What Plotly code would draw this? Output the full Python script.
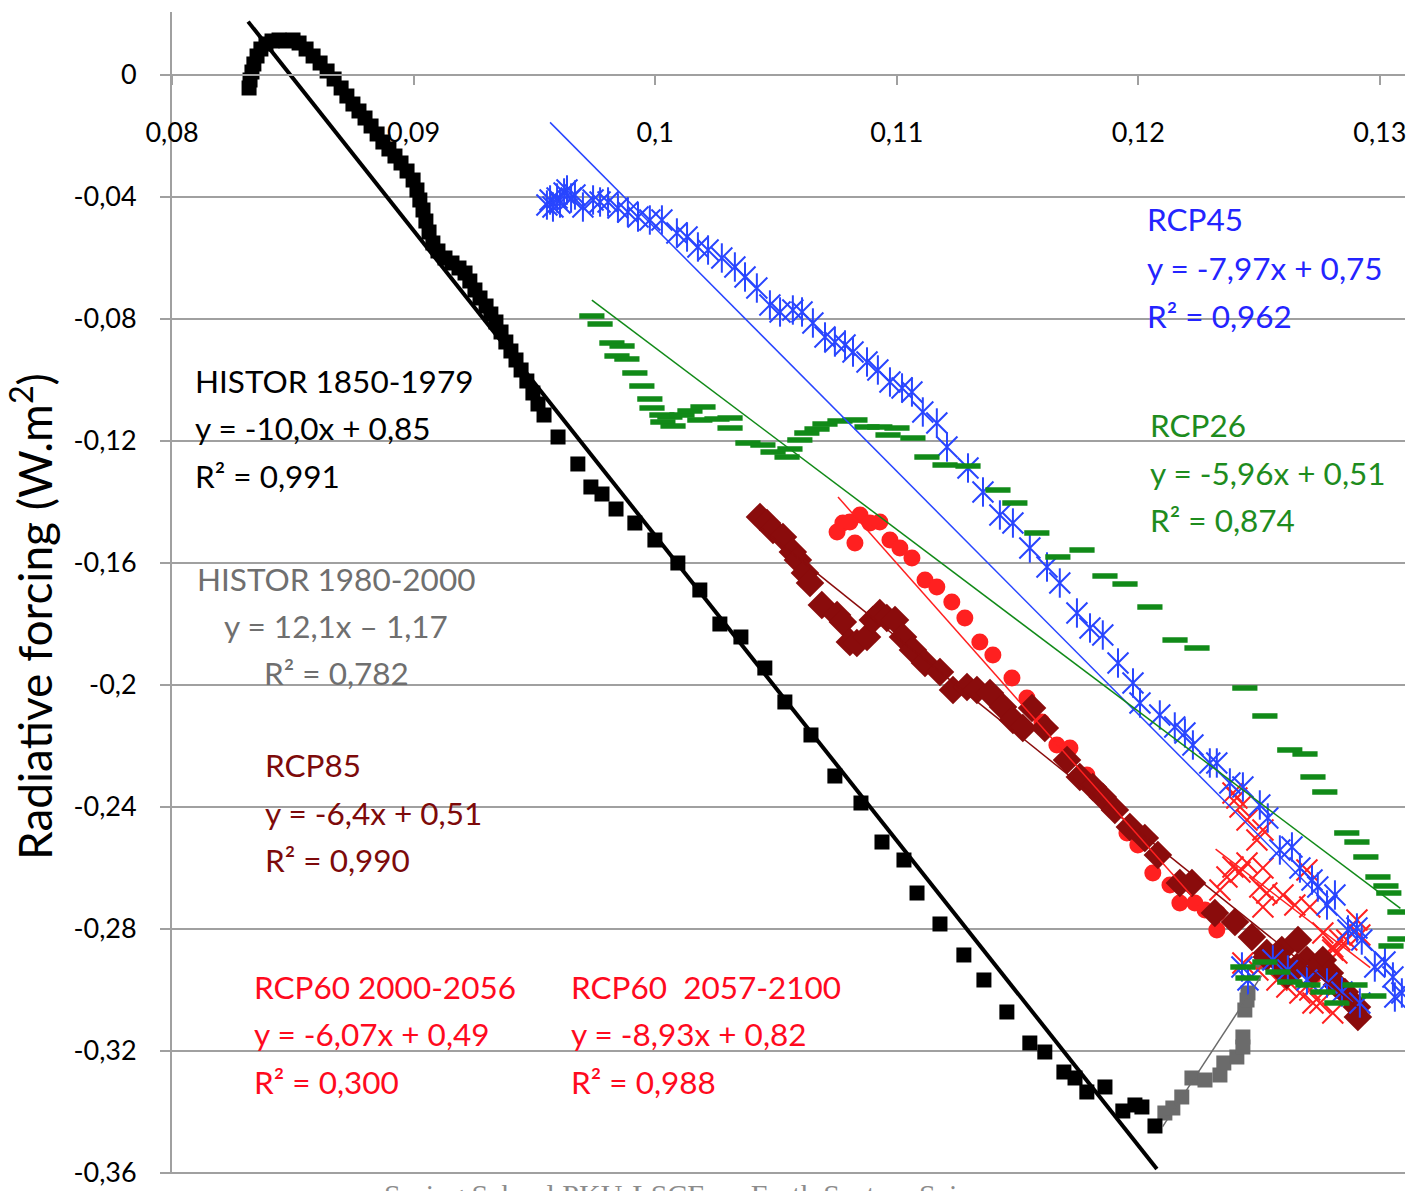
import numpy as np
import plotly.graph_objects as go

# ---------------- data ----------------
# HISTOR 1850-1979 (black squares)
hist1_x = [0.08319, 0.08323, 0.08331, 0.08339, 0.08352, 0.08368, 0.08389, 0.08414, 0.08443, 0.08472,
           0.08501, 0.08526, 0.08555, 0.08584, 0.08613, 0.08642, 0.08671, 0.08700, 0.08724, 0.08749,
           0.08774, 0.08799, 0.08824, 0.08849, 0.08873, 0.08898, 0.08923, 0.08948, 0.08973, 0.08998,
           0.09014, 0.09026, 0.09039, 0.09051, 0.09064, 0.09080, 0.09101, 0.09130, 0.09159, 0.09188,
           0.09213, 0.09233, 0.09254, 0.09275, 0.09300, 0.09320, 0.09341, 0.09362, 0.09382, 0.09403,
           0.09424, 0.09445, 0.09469, 0.09494, 0.09515, 0.09540, 0.09598, 0.09680, 0.09734, 0.09780,
           0.09838, 0.09916, 0.09999, 0.10094, 0.10185, 0.10268, 0.10355, 0.10454, 0.10537, 0.10645,
           0.10744, 0.10852, 0.10939, 0.11030, 0.11084, 0.11179, 0.11278, 0.11361, 0.11456, 0.11551,
           0.11613, 0.11692, 0.11738, 0.11787, 0.11862, 0.11936, 0.11986, 0.12015, 0.12069]
hist1_y = [-0.00426, -0.00164, 0.00098, 0.00361, 0.00623, 0.00852, 0.01016, 0.01115, 0.01148, 0.01115,
           0.01148, 0.01049, 0.00852, 0.00623, 0.00393, 0.00131, -0.00131, -0.00426, -0.00689, -0.00951,
           -0.01180, -0.01410, -0.01672, -0.01934, -0.02197, -0.02426, -0.02656, -0.02885, -0.03148, -0.03443,
           -0.03770, -0.04098, -0.04426, -0.04787, -0.05148, -0.05508, -0.05770, -0.06000, -0.06164, -0.06328,
           -0.06492, -0.06754, -0.07049, -0.07311, -0.07574, -0.07836, -0.08098, -0.08426, -0.08754, -0.09049,
           -0.09344, -0.09672, -0.10033, -0.10426, -0.10787, -0.11148, -0.11869, -0.12754, -0.13508, -0.13738,
           -0.14230, -0.14689, -0.15246, -0.16000, -0.16885, -0.18000, -0.18426, -0.19443, -0.20557, -0.21639,
           -0.22984, -0.23869, -0.25148, -0.25738, -0.26820, -0.27836, -0.28852, -0.29672, -0.30721, -0.31738,
           -0.32033, -0.32689, -0.32885, -0.33344, -0.33180, -0.33967, -0.33770, -0.33836, -0.34459]

# HISTOR 1980-2000 (grey squares)
hist2_x = [0.12110, 0.12143, 0.12180, 0.12222, 0.12276, 0.12338, 0.12354, 0.12408, 0.12433, 0.12433,
           0.12441, 0.12450, 0.12454, 0.12512]
hist2_y = [-0.34033, -0.33869, -0.33508, -0.32885, -0.32951, -0.32787, -0.32393, -0.32197, -0.31869, -0.31541,
           -0.30656, -0.30328, -0.30098, -0.29082]

# RCP85 (dark red diamonds)
rcp85_x = [0.10434, 0.10463, 0.10488, 0.10529, 0.10570, 0.10591, 0.10620, 0.10641, 0.10690, 0.10753,
           0.10777, 0.10806, 0.10835, 0.10877, 0.10901, 0.10930, 0.10959, 0.10993, 0.11026, 0.11067,
           0.11117, 0.11179, 0.11233, 0.11291, 0.11332, 0.11386, 0.11440, 0.11481, 0.11522, 0.11560,
           0.11613, 0.11705, 0.11758, 0.11812, 0.11853, 0.11903, 0.11965, 0.12027, 0.12081, 0.12172,
           0.12222, 0.12317, 0.12400, 0.12470, 0.12532, 0.12594, 0.12661, 0.12698, 0.12764, 0.12793,
           0.12822, 0.12855, 0.12905, 0.12909, 0.12532, 0.12586, 0.12656, 0.12723, 0.12615]
rcp85_y = [-0.14492, -0.14689, -0.14918, -0.15148, -0.15639, -0.15902, -0.16328, -0.16656, -0.17377, -0.17705,
           -0.17934, -0.18590, -0.18623, -0.18426, -0.17869, -0.17639, -0.17803, -0.17869, -0.18426, -0.18852,
           -0.19279, -0.19574, -0.20164, -0.20066, -0.20164, -0.20262, -0.20721, -0.21148, -0.21410, -0.20754,
           -0.21410, -0.22459, -0.23016, -0.23344, -0.23672, -0.24098, -0.24656, -0.25016, -0.25574, -0.26492,
           -0.26492, -0.27475, -0.27770, -0.28262, -0.28787, -0.28689, -0.28361, -0.29016, -0.29016, -0.29443,
           -0.29836, -0.30066, -0.30557, -0.30885, -0.28918, -0.29082, -0.29246, -0.29410, -0.29508]

# RCP60 2057-2100 (red circles)
rcp60b_x = [0.10753, 0.10777, 0.10806, 0.10827, 0.10848, 0.10889, 0.10930, 0.10972, 0.11013, 0.11063,
            0.11117, 0.11166, 0.11228, 0.11282, 0.11344, 0.11398, 0.11477, 0.11539, 0.11601, 0.11663,
            0.11717, 0.11787, 0.11862, 0.11953, 0.11998, 0.12060, 0.12131, 0.12172, 0.12234, 0.12276,
            0.12329, 0.12325]
rcp60b_y = [-0.14984, -0.14689, -0.14656, -0.15344, -0.14426, -0.14689, -0.14656, -0.15246, -0.15508, -0.15836,
            -0.16557, -0.16787, -0.17279, -0.17803, -0.18590, -0.19016, -0.19770, -0.20426, -0.21213, -0.21967,
            -0.22066, -0.22951, -0.23705, -0.24852, -0.25246, -0.26164, -0.26557, -0.27148, -0.27148, -0.27377,
            -0.27475, -0.28033]

# RCP60 2000-2056 (red crosses)
rcp60a_x = [0.12392, 0.12408, 0.12421, 0.12450, 0.12491, 0.12516, 0.12367, 0.12392, 0.12421, 0.12450,
            0.12516, 0.12503, 0.12532, 0.12516, 0.12338, 0.12710, 0.12764, 0.12805, 0.12863, 0.12905,
            0.12917, 0.12698, 0.12834, 0.12805, 0.12599, 0.12648, 0.12433, 0.12495, 0.12574, 0.12615,
            0.12669, 0.12723, 0.12752, 0.12805, 0.12710, 0.12822]
rcp60a_y = [-0.23541, -0.23705, -0.24000, -0.24426, -0.25082, -0.24754, -0.26295, -0.25967, -0.26131, -0.25836,
            -0.26000, -0.26623, -0.26820, -0.27279, -0.26721, -0.27279, -0.28131, -0.28590, -0.28361, -0.27705,
            -0.28197, -0.26066, -0.28361, -0.28689, -0.26885, -0.27213, -0.29115, -0.29344, -0.29672, -0.29902,
            -0.30098, -0.30426, -0.30426, -0.30754, -0.30000, -0.28787]

# RCP45 (blue stars)
rcp45_x = [0.09552, 0.09565, 0.09577, 0.09594, 0.09606, 0.09623, 0.09635, 0.09652, 0.09668, 0.09701,
           0.09743, 0.09772, 0.09805, 0.09846, 0.09887, 0.09929, 0.09978, 0.10028, 0.10090, 0.10132,
           0.10177, 0.10219, 0.10276, 0.10330, 0.10372, 0.10421, 0.10475, 0.10517, 0.10570, 0.10608,
           0.10653, 0.10703, 0.10744, 0.10786, 0.10819, 0.10877, 0.10922, 0.10972, 0.11022, 0.11063,
           0.11108, 0.11166, 0.11208, 0.11295, 0.11357, 0.11427, 0.11481, 0.11551, 0.11622, 0.11675,
           0.11746, 0.11800, 0.11853, 0.11916, 0.11978, 0.12007, 0.12089, 0.12151, 0.12193, 0.12226,
           0.12296, 0.12325, 0.12379, 0.12433, 0.12503, 0.12536, 0.12586, 0.12636, 0.12669, 0.12719,
           0.12743, 0.12781, 0.12814, 0.12868, 0.12905, 0.12925, 0.12979, 0.13021, 0.13054, 0.13091,
           0.13062, 0.12429, 0.12454, 0.12557, 0.12619, 0.12698, 0.12781, 0.12843, 0.12917]
rcp45_y = [-0.04262, -0.04098, -0.04328, -0.04033, -0.04197, -0.03869, -0.03770, -0.04033, -0.03934, -0.04328,
           -0.04098, -0.04164, -0.04164, -0.04361, -0.04492, -0.04656, -0.04754, -0.04754, -0.05180, -0.05311,
           -0.05639, -0.05738, -0.06000, -0.06295, -0.06623, -0.06984, -0.07541, -0.07770, -0.07705, -0.07770,
           -0.08131, -0.08590, -0.08754, -0.08852, -0.09082, -0.09410, -0.09672, -0.10066, -0.10262, -0.10393,
           -0.11049, -0.11410, -0.12197, -0.12885, -0.13672, -0.14426, -0.14689, -0.15508, -0.16131, -0.16656,
           -0.17639, -0.18131, -0.18361, -0.19279, -0.19934, -0.20590, -0.20984, -0.21377, -0.21574, -0.21967,
           -0.22557, -0.22557, -0.23213, -0.23344, -0.23934, -0.24361, -0.25410, -0.25311, -0.26000, -0.26393,
           -0.26623, -0.27213, -0.26885, -0.28033, -0.27967, -0.28361, -0.29246, -0.29082, -0.29574, -0.30098,
           -0.30230, -0.29246, -0.29672, -0.29016, -0.29344, -0.29672, -0.29770, -0.30066, -0.30426]

# RCP26 (green dashes)
rcp26_x = [0.09738, 0.09772, 0.09821, 0.09863, 0.09842, 0.09883, 0.09916, 0.09945, 0.09978, 0.09987,
           0.10028, 0.10032, 0.10061, 0.10074, 0.10111, 0.10144, 0.10198, 0.10185, 0.10256, 0.10310,
           0.10310, 0.10384, 0.10446, 0.10488, 0.10546, 0.10558, 0.10599, 0.10628, 0.10670, 0.10703,
           0.10765, 0.10827, 0.10877, 0.10930, 0.11001, 0.10964, 0.11067, 0.11125, 0.11200, 0.11295,
           0.11419, 0.11489, 0.11580, 0.11667, 0.11767, 0.11862, 0.11945, 0.12048, 0.12152, 0.12243,
           0.12441, 0.12524, 0.12627, 0.12690, 0.12723, 0.12772, 0.12863, 0.12905, 0.12942, 0.12992,
           0.13025, 0.13037, 0.13083, 0.13083, 0.13046, 0.12433, 0.12454, 0.12524, 0.12578, 0.12627,
           0.12702, 0.12764, 0.12822, 0.12897, 0.12975]
rcp26_y = [-0.07902, -0.08164, -0.08787, -0.08885, -0.09213, -0.09311, -0.09770, -0.10197, -0.10623, -0.10918,
           -0.11148, -0.11377, -0.11213, -0.11508, -0.11148, -0.11016, -0.10885, -0.11311, -0.11279, -0.11246,
           -0.11574, -0.12066, -0.12131, -0.12361, -0.12525, -0.12262, -0.11967, -0.11738, -0.11607, -0.11443,
           -0.11344, -0.11311, -0.11541, -0.11541, -0.11574, -0.11803, -0.11902, -0.12525, -0.12787, -0.12820,
           -0.13607, -0.14033, -0.15016, -0.15803, -0.15574, -0.16426, -0.16689, -0.17443, -0.18525, -0.18787,
           -0.20098, -0.21016, -0.22131, -0.22262, -0.23016, -0.23508, -0.24852, -0.25148, -0.25639, -0.26295,
           -0.26590, -0.26820, -0.27443, -0.28328, -0.28557, -0.29246, -0.29607, -0.29082, -0.29410, -0.29738,
           -0.29836, -0.30066, -0.30426, -0.29836, -0.30197]

# linear trends: (slope, intercept, x start, x end)
trend_hist1 = (-10.0, 0.849, 0.08315, 0.12077)
trend_hist2 = (12.1, -1.809, 0.12100, 0.12510)
trend_rcp45 = (-7.97, 0.7468, 0.09565, 0.13070)
trend_rcp26 = (-5.96, 0.5066, 0.09738, 0.13085)
trend_rcp60a = (-6.07, 0.494, 0.12320, 0.12960)
trend_rcp60b = (-8.93, 0.8222, 0.10757, 0.12220)
trend_rcp85 = (-6.36, 0.5153, 0.10430, 0.12910)

x_ticks = [0.08, 0.09, 0.10, 0.11, 0.12, 0.13]
x_tick_text = ["0,08", "0,09", "0,1", "0,11", "0,12", "0,13"]
y_ticks = [0, -0.04, -0.08, -0.12, -0.16, -0.20, -0.24, -0.28, -0.32, -0.36]
y_tick_text = ["0", "-0,04", "-0,08", "-0,12", "-0,16", "-0,2", "-0,24", "-0,28", "-0,32", "-0,36"]

# ---------------- colours ----------------
C_BLACK = "#000000"
C_GREY = "#6b6b6b"
C_DARKRED = "#8a0c0c"
C_RED = "#ff2020"
C_BLUE = "#2845ff"
C_GREEN = "#118a18"

FONT = "Lato"

fig = go.Figure()


def trend(params, color, width):
    a, b, x0, x1 = params
    xs = np.array([x0, x1])
    fig.add_trace(go.Scatter(x=xs, y=a * xs + b, mode="lines",
                             line=dict(color=color, width=width),
                             showlegend=False, hoverinfo="skip"))


# markers
fig.add_trace(go.Scatter(x=hist2_x, y=hist2_y, mode="markers",
                         marker=dict(symbol="square", size=15, color=C_GREY), showlegend=False))
fig.add_trace(go.Scatter(x=hist1_x, y=hist1_y, mode="markers",
                         marker=dict(symbol="square", size=15, color=C_BLACK), showlegend=False))
fig.add_trace(go.Scatter(x=rcp60a_x, y=rcp60a_y, mode="markers",
                         marker=dict(symbol="x-thin-open", size=21, color=C_RED,
                                     line=dict(color=C_RED, width=2)), showlegend=False))
fig.add_trace(go.Scatter(x=rcp60b_x, y=rcp60b_y, mode="markers",
                         marker=dict(symbol="circle", size=17, color=C_RED), showlegend=False))
fig.add_trace(go.Scatter(x=rcp85_x, y=rcp85_y, mode="markers",
                         marker=dict(symbol="diamond", size=22, color=C_DARKRED), showlegend=False))
for sym in ("x-thin-open", "line-ns-open"):
    fig.add_trace(go.Scatter(x=rcp45_x, y=rcp45_y, mode="markers",
                             marker=dict(symbol=sym, size=21, color=C_BLUE,
                                         line=dict(color=C_BLUE, width=2)), showlegend=False))
fig.add_trace(go.Scatter(x=rcp26_x, y=rcp26_y, mode="markers",
                         marker=dict(symbol="line-ew-open", size=18, color=C_GREEN,
                                     line=dict(color=C_GREEN, width=5.5)), showlegend=False))

# trend lines
trend(trend_hist1, C_BLACK, 4)
trend(trend_hist2, C_GREY, 1.5)
trend(trend_rcp85, C_DARKRED, 1.5)
trend(trend_rcp60b, C_RED, 1.5)
trend(trend_rcp60a, C_RED, 1.5)
trend(trend_rcp45, C_BLUE, 1.5)
trend(trend_rcp26, C_GREEN, 1.5)

# equation labels
T_BLACK, T_GREY, T_DARKRED, T_RED, T_BLUE, T_GREEN = "#000000", "#6f6f6f", "#7d0a0a", "#ff0a1e", "#2424ff", "#1e8c1e"
labels = [
    (0.08087, [-0.10033, -0.11574, -0.13148], ["HISTOR 1850-1979", "y = -10,0x + 0,85", "R² = 0,991"], T_BLACK, "left"),
    (0.08679, [-0.16525, -0.18066, -0.19607], ["HISTOR 1980-2000", "y = 12,1x – 1,17", "R² = 0,782"], T_GREY, "center"),
    (0.08377, [-0.22623, -0.24197, -0.25738], ["RCP85", "y = -6,4x + 0,51", "R² = 0,990"], T_DARKRED, "left"),
    (0.08332, [-0.29902, -0.31443, -0.33016], ["RCP60 2000-2056", "y = -6,07x + 0,49", "R² = 0,300"], T_RED, "left"),
    (0.09644, [-0.29902, -0.31443, -0.33016], ["RCP60  2057-2100", "y = -8,93x + 0,82", "R² = 0,988"], T_RED, "left"),
    (0.12028, [-0.04721, -0.06328, -0.07902], ["RCP45", "y = -7,97x + 0,75", "R² = 0,962"], T_BLUE, "left"),
    (0.12040, [-0.11475, -0.13049, -0.14590], ["RCP26", "y = -5,96x + 0,51", "R² = 0,874"], T_GREEN, "left"),
]
for x, ys, texts, col, anchor in labels:
    for y, t in zip(ys, texts):
        fig.add_annotation(x=x, y=y, xref="x", yref="y", text=t.replace("  ", "&nbsp; "),
                           showarrow=False, xanchor=anchor, yanchor="middle",
                           font=dict(family=FONT, size=31.5, color=col))

# axis title
fig.add_annotation(x=-0.1145, y=0.48, xref="paper", yref="paper", text="Radiative forcing (W.m<sup>2</sup>)",
                   textangle=-90, showarrow=False, xanchor="center", yanchor="middle",
                   font=dict(family=FONT, size=46, color="#000000"))

# footer
fig.add_annotation(x=0.4315, y=-0.002, xref="paper", yref="paper",
                   text="Spring School PKU-LSCE on Earth System Sciences",
                   showarrow=False, xanchor="center", yanchor="top",
                   font=dict(family="Liberation Serif", size=30, color="#8c8c8c"))

AXIS_GREY = "#a0a0a0"
y_lo, y_hi = -0.36033, 0.020656
fig.update_layout(
    width=1412, height=1191,
    margin=dict(l=172, r=7, t=12, b=17, autoexpand=False),
    paper_bgcolor="white", plot_bgcolor="white",
    font=dict(family=FONT, size=27, color="#000000"),
    xaxis=dict(range=[0.08, 0.13104], tickvals=x_ticks, ticktext=x_tick_text, automargin=False,
               showgrid=False, zeroline=False, showline=True, linecolor=AXIS_GREY, linewidth=2,
               ticks="outside", ticklen=9, tickwidth=2, tickcolor=AXIS_GREY,
               anchor="free", position=(0 - y_lo) / (y_hi - y_lo),
               ticklabelstandoff=25, tickfont=dict(family=FONT, size=27, color="#000000")),
    yaxis=dict(range=[y_lo, y_hi], tickvals=y_ticks, ticktext=y_tick_text, automargin=False,
               showgrid=True, gridcolor=AXIS_GREY, gridwidth=2, zeroline=False,
               showline=True, linecolor=AXIS_GREY, linewidth=2,
               ticks="outside", ticklen=10, tickwidth=2, tickcolor=AXIS_GREY,
               ticklabelstandoff=18, tickfont=dict(family=FONT, size=27, color="#000000")),
)

fig.write_html("out.html")
